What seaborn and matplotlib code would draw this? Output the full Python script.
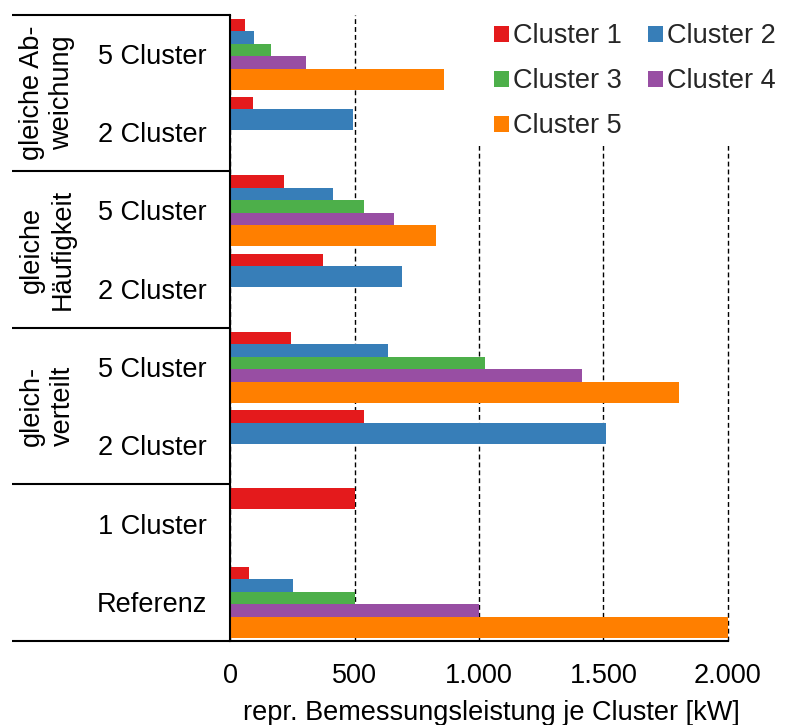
import numpy as np
import pandas as pd
import matplotlib
matplotlib.use("Agg")
import matplotlib.pyplot as plt
from matplotlib.ticker import FuncFormatter
from matplotlib.transforms import blended_transform_factory
from matplotlib.patches import Rectangle
import seaborn as sns

# ---------------- data ----------------
row_labels = ["5 Cluster", "2 Cluster", "5 Cluster", "2 Cluster",
              "5 Cluster", "2 Cluster", "1 Cluster", "Referenz"]
group_labels = ["gleiche Ab-\nweichung", "gleiche\nHäufigkeit", "gleich-\nverteilt", ""]
cluster_names = ["Cluster 1", "Cluster 2", "Cluster 3", "Cluster 4", "Cluster 5"]
nan = np.nan
cluster1 = [60, 90, 217, 374, 244, 537, 500, 75]
cluster2 = [95, 493, 411, 690, 635, 1511, nan, 250]
cluster3 = [162, nan, 537, nan, 1024, nan, nan, 500]
cluster4 = [305, nan, 658, nan, 1414, nan, nan, 1000]
cluster5 = [859, nan, 828, nan, 1805, nan, nan, 2000]
x_ticks = [0, 500, 1000, 1500, 2000]
x_label = "repr. Bemessungsleistung je Cluster [kW]"

# ---------------- style ----------------
sns.set_style("white")
plt.rcParams["font.family"] = ["Liberation Sans", "DejaVu Sans"]
FS = 19.5
colors = sns.color_palette("Set1", 5)

W, H = 785, 725
fig = plt.figure(figsize=(W / 100, H / 100), dpi=100)
ax_l, ax_r, ax_t, ax_b = 230.4, 727.7, 14.7, 641.0
ax = fig.add_axes([ax_l / W, 1 - ax_b / H, (ax_r - ax_l) / W, (ax_b - ax_t) / H])

BAR_H = 0.268
BAR_OFF = -0.5 + 0.185
BAR_STEP = 0.1596

series = [cluster1, cluster2, cluster3, cluster4, cluster5]
for k, (name, vals, col) in enumerate(zip(cluster_names, series, colors)):
    df = pd.DataFrame({"pos": np.arange(len(row_labels)) + BAR_OFF + k * BAR_STEP,
                       "val": vals}).dropna()
    step = np.min(np.diff(df["pos"].values)) if len(df) > 1 else 1.0
    sns.barplot(data=df, x="val", y="pos", orient="y", native_scale=True,
                width=BAR_H / step, color=col, saturation=1, errorbar=None,
                linewidth=0, label=name, ax=ax, zorder=2)

ax.set_xlim(0, 2000)
ax.set_ylim(len(row_labels) - 0.5, -0.5)
ax.set_xticks(x_ticks)
ax.xaxis.set_major_formatter(FuncFormatter(lambda v, p: f"{int(v):,}".replace(",", ".")))
ax.set_yticks(range(len(row_labels)))
ax.set_yticklabels(row_labels)
ax.tick_params(axis="y", length=0, pad=16.8, labelsize=FS, colors="black")
ax.tick_params(axis="x", length=0, pad=16, labelsize=FS, colors="black")
ax.set_ylabel("")
ax.set_xlabel(x_label, fontsize=FS, color="black")
ax.xaxis.set_label_coords((491.7 - ax_l) / (ax_r - ax_l), -0.095)

ax.set_axisbelow(True)
ax.xaxis.grid(True, color="black", linestyle=(0, (3.5, 2.2)), linewidth=1.0)
ax.yaxis.grid(False)
for gl in ax.xaxis.get_gridlines():
    gl.set_clip_on(False)

for s in ["top", "right"]:
    ax.spines[s].set_visible(False)
for s in ["left", "bottom"]:
    ax.spines[s].set_color("black")
    ax.spines[s].set_linewidth(1.5)

# separator lines in the label area
trans = blended_transform_factory(ax.transAxes, ax.transData)
x0 = (12 - ax_l) / (ax_r - ax_l)
for yb in [-0.5, 1.5, 3.5, 5.5, 7.5]:
    ax.plot([x0, 0], [yb, yb], color="black", lw=1.5, transform=trans,
            clip_on=False, solid_capstyle="butt")

# group labels
for gi, g in enumerate(group_labels):
    if not g:
        continue
    yc = gi * 2 + 0.5
    ax.text((47 - ax_l) / (ax_r - ax_l), yc, g, transform=trans, rotation=90,
            ha="center", va="center", multialignment="center",
            fontsize=FS, linespacing=1.25, color="black")

# white background behind the legend (hides grid lines there)
fig.add_artist(Rectangle((477 / W, 1 - 146 / H), (W - 477) / W, 146 / H,
                         transform=fig.transFigure, facecolor="white",
                         edgecolor="none", zorder=1))

# legend (row-major order)
handles, labels = ax.get_legend_handles_labels()
order = [0, 2, 4, 1, 3]
leg = fig.legend([handles[i] for i in order], [labels[i] for i in order],
                 ncol=2, loc="upper left", bbox_to_anchor=(477.7 / W, 1 - 7.2 / H),
                 frameon=False, fontsize=FS, handlelength=0.553, handleheight=0.553,
                 handletextpad=0.15, columnspacing=0.98, labelspacing=0.7,
                 borderpad=0.6, borderaxespad=0)
leg.set_zorder(5)

fig.savefig("out.png", dpi=100)
